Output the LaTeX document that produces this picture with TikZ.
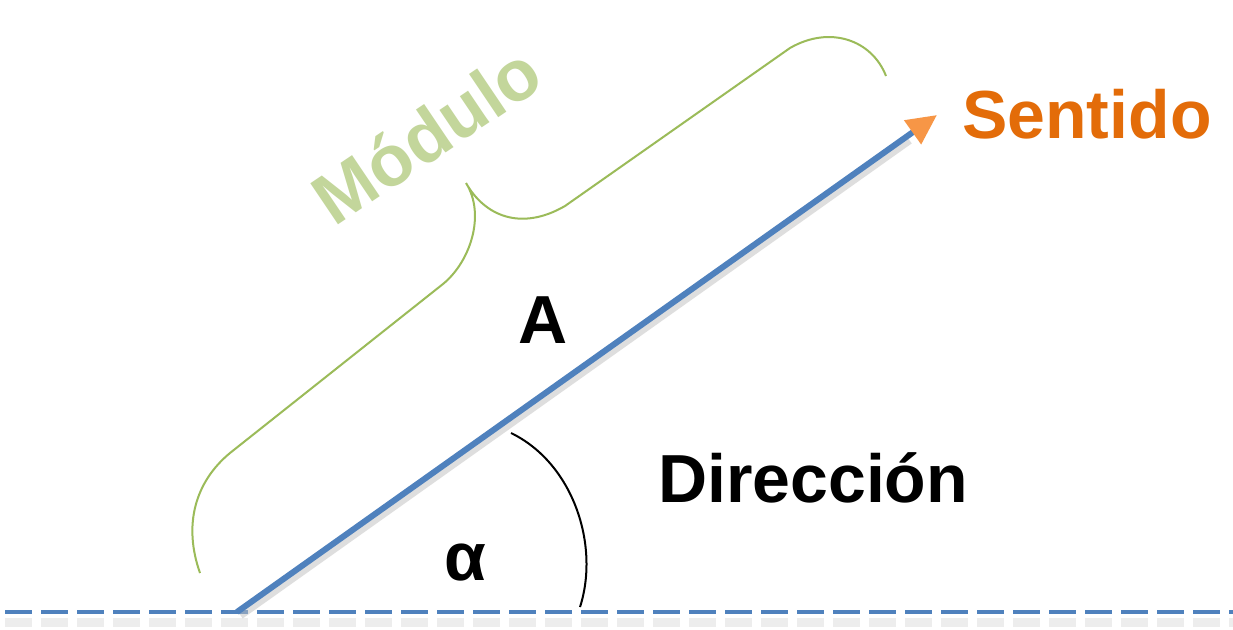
\documentclass[tikz,border=0pt]{standalone}
\usepackage{fontspec}
\setmainfont{Liberation Sans}
\usetikzlibrary{arrows.meta}
\definecolor{vecblue}{HTML}{4F81BD}
\definecolor{tiporange}{HTML}{F79646}
\definecolor{sentorange}{HTML}{E36C09}
\definecolor{bracegreen}{HTML}{9BBB59}
\definecolor{modgreen}{HTML}{C3D69B}
\tikzset{
  lbl/.style={font=\fontsize{68}{80}\selectfont\bfseries, inner sep=0pt},
  vec/.style={draw=vecblue, line width=6pt, -{Triangle[length=30pt,width=28pt,color=tiporange]}},
  vecshadow/.style={draw=black!25, line width=6pt, opacity=0.5},
  axis/.style={draw=vecblue, line width=4pt, dash pattern=on 27pt off 9pt},
  axisshadow/.style={draw=black!7, line width=9pt, dash pattern=on 27pt off 9pt},
  bracestyle/.style={draw=bracegreen, line width=2pt},
  anglearc/.style={draw=black, line width=2pt},
}
\begin{document}
\begin{tikzpicture}[x=1pt,y=-1pt]
\useasboundingbox (0,0) rectangle (1233,629);
\fill[white] (0,0) rectangle (1233,629);
% baseline axis
\coordinate (L) at (5,612);
\coordinate (R) at (1233,612);
\coordinate (Ls) at (5,622);
\coordinate (Rs) at (1233,622);
\draw[axisshadow] (Ls) -- (Rs);
\draw[axis] (L) -- (R);
% vector
\coordinate (O) at (237,612);
\coordinate (T) at (937,115);
\coordinate (Os) at (241,616);
\coordinate (Ts) at (910,141);
\draw[vecshadow] (Os) -- (Ts);
\draw[vec] (O) -- (T);
% angle arc
\coordinate (a1) at (511,433);
\coordinate (a2) at (580,607);
\draw[anglearc] (a1) .. controls (573,463) and (600,545) .. (a2);
% brace
\coordinate (b1) at (200,573);
\coordinate (btip) at (466,183);
\coordinate (b2) at (886,76);
\draw[bracestyle] (b1) .. controls (183,525) and (195,482) .. (230,453)
  -- (443,284) .. controls (470,262) and (486,215) .. (btip)
  .. controls (484,215) and (520,232) .. (565,206)
  -- (790,48) .. controls (830,25) and (872,40) .. (b2);
% labels
\node[lbl, font=\fontsize{72}{84}\selectfont\bfseries, text=modgreen, rotate=34, anchor=base] (mod) at (441,156) {Módulo};
\node[lbl, text=sentorange, anchor=west] (sen) at (962,114) {Sentido};
\node[lbl] (A) at (543,320) {A};
\node[lbl] (alpha) at (465,563) {α};
\node[lbl, anchor=west] (dir) at (658,478) {Dirección};
\end{tikzpicture}
\end{document}
